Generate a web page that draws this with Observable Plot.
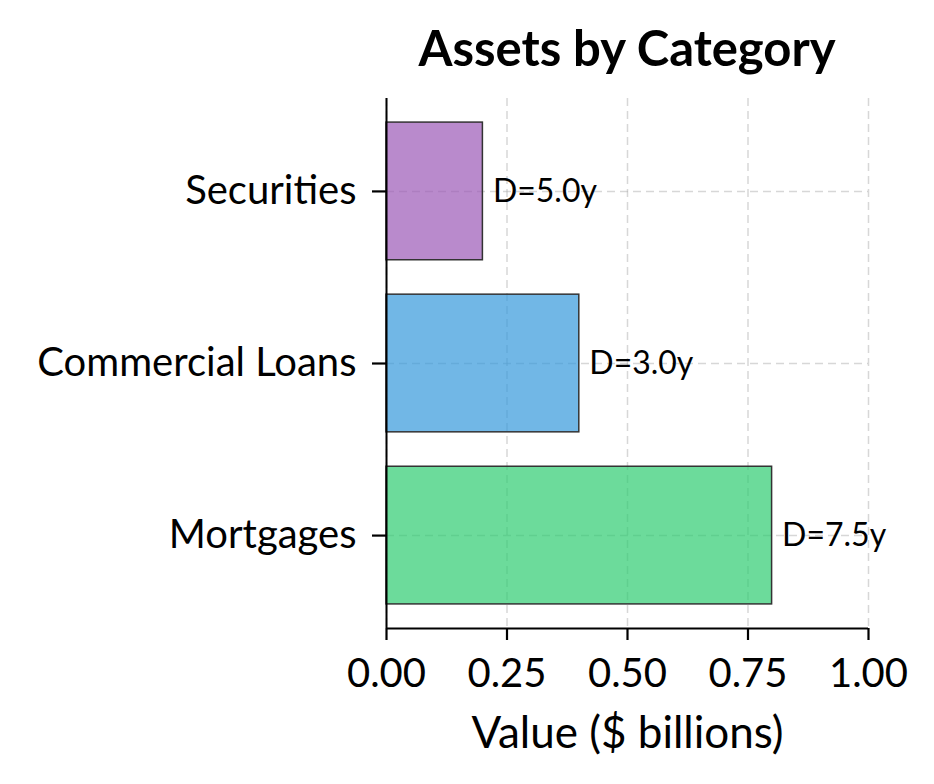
<!DOCTYPE html>
<html>
<head>
<meta charset="utf-8">
<script src="https://cdn.jsdelivr.net/npm/d3@7"></script>
<script src="https://cdn.jsdelivr.net/npm/@observablehq/plot@0.6"></script>
<style>
  html, body { margin: 0; padding: 0; background: #fff; }
  #title { height: 70px; width: 934px; position: relative; font-family: Lato, sans-serif; }
  #title span { position: absolute; left: 386px; width: 482px; text-align: center; top: 21px; font-weight: bold; font-size: 49px; line-height: 52px; color: #000; white-space: nowrap; }
</style>
</head>
<body>
<div id="title"><span>Assets by Category</span></div>
<div id="chart"></div>
<script>
const categories = ["Mortgages", "Commercial Loans", "Securities"];
const values = [0.8, 0.4, 0.2];
const durations = ["D=7.5y", "D=3.0y", "D=5.0y"];
const colors = ["#2ecc71", "#3498db", "#9b59b6"];
const xTicks = [0, 0.25, 0.5, 0.75, 1.0];
const yIndex = [0, 1, 2];
const xLabel = "Value ($ billions)";

const rows = categories.map((c, i) => ({i, category: c, value: values[i], label: durations[i], color: colors[i]}));

const chart = Plot.plot({
  width: 934,
  height: 714,
  marginLeft: 386,
  marginRight: 66,
  marginTop: 28,
  marginBottom: 156,
  style: { fontFamily: "Lato, sans-serif", fontSize: "40px", color: "#000", background: "#fff", overflow: "visible" },
  x: { domain: [0, 1] },
  y: { domain: [-0.54, 2.54] },
  marks: [
    Plot.ruleX(xTicks, { stroke: "#b0b0b0", strokeOpacity: 0.5, strokeWidth: 1.5, strokeDasharray: "8,5" }),
    Plot.ruleY(yIndex, { stroke: "#b0b0b0", strokeOpacity: 0.5, strokeWidth: 1.5, strokeDasharray: "8,5" }),
    Plot.rect(rows, { x1: 0, x2: "value", y1: d => d.i - 0.4, y2: d => d.i + 0.4, fill: d => d.color, fillOpacity: 0.7, stroke: "#333", strokeWidth: 1.5 }),
    Plot.text(rows, { x: "value", y: "i", text: "label", dx: 10, textAnchor: "start", fontSize: 32, fill: "#000" }),
    Plot.ruleX([0], { stroke: "#000", strokeWidth: 2 }),
    Plot.ruleY([-0.54], { stroke: "#000", strokeWidth: 2 }),
    Plot.axisX({ ticks: xTicks, tickFormat: d3.format(".2f"), tickSize: 12, tickPadding: 18, strokeWidth: 2.2, stroke: "#000", label: null }),
    Plot.axisY({ ticks: yIndex, tickFormat: i => categories[i], tickSize: 14, tickPadding: 16, strokeWidth: 2.2, stroke: "#000", label: null }),
    Plot.text([xLabel], { frameAnchor: "bottom", dy: 105, fontSize: 44, fill: "#000", lineAnchor: "middle" })
  ]
});
document.getElementById("chart").appendChild(chart);
</script>
</body>
</html>
